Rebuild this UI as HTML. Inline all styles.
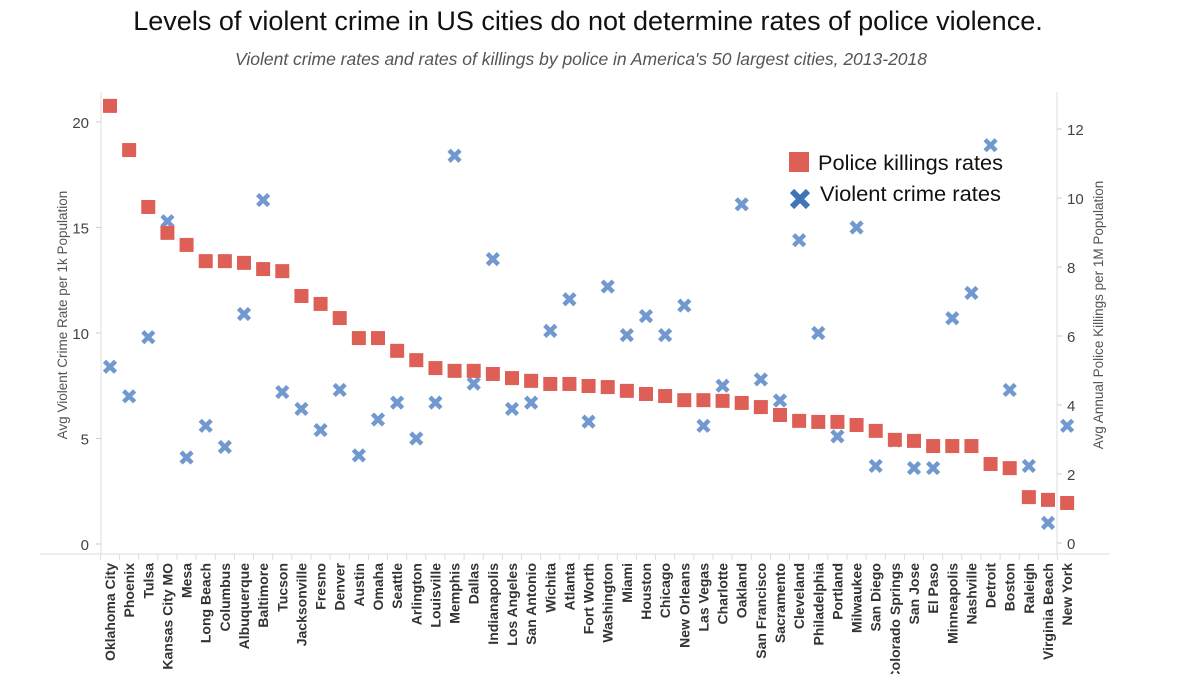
<!DOCTYPE html>
<html><head><meta charset="utf-8">
<style>
html,body{margin:0;padding:0;background:#fff;width:1200px;height:674px;overflow:hidden;font-family:"Liberation Sans",sans-serif;}
</style></head>
<body>
<svg id="chart" width="1200" height="674" xmlns="http://www.w3.org/2000/svg" style="display:block">
<text x="588" y="30" text-anchor="middle" font-size="27" fill="#111" font-family="Liberation Sans, sans-serif">Levels of violent crime in US cities do not determine rates of police violence.</text>
<text x="581" y="65" text-anchor="middle" font-size="17.5" font-style="italic" fill="#555" font-family="Liberation Sans, sans-serif">Violent crime rates and rates of killings by police in America's 50 largest cities, 2013-2018</text>
<g id="axes"></g>
<g id="marks"></g>
<g>
<rect x="789" y="152" width="20" height="20" fill="#dd5f55"/>
<text x="818" y="170" font-size="21" fill="#111" textLength="185" lengthAdjust="spacingAndGlyphs">Police killings rates</text>
<g transform="translate(800,199)"><path d="M-8,-8L8,8M8,-8L-8,8" stroke="#3f74b8" stroke-width="6"/></g>
<text x="820" y="201" font-size="21" fill="#111" textLength="181" lengthAdjust="spacingAndGlyphs">Violent crime rates</text>
</g>
</svg>
<script>
const cities=["Oklahoma City","Phoenix","Tulsa","Kansas City MO","Mesa","Long Beach","Columbus","Albuquerque","Baltimore","Tucson","Jacksonville","Fresno","Denver","Austin","Omaha","Seattle","Arlington","Louisville","Memphis","Dallas","Indianapolis","Los Angeles","San Antonio","Wichita","Atlanta","Fort Worth","Washington","Miami","Houston","Chicago","New Orleans","Las Vegas","Charlotte","Oakland","San Francisco","Sacramento","Cleveland","Philadelphia","Portland","Milwaukee","San Diego","Colorado Springs","San Jose","El Paso","Minneapolis","Nashville","Detroit","Boston","Raleigh","Virginia Beach","New York"];
const policeKillings=[12.67,11.39,9.74,8.99,8.64,8.17,8.17,8.12,7.94,7.88,7.16,6.93,6.52,5.94,5.94,5.57,5.30,5.07,4.99,4.99,4.90,4.78,4.70,4.61,4.61,4.55,4.52,4.41,4.32,4.26,4.14,4.14,4.12,4.06,3.94,3.71,3.54,3.51,3.51,3.42,3.25,2.99,2.96,2.81,2.81,2.81,2.29,2.17,1.33,1.25,1.16];
const violentCrime=[8.4,7.0,9.8,15.3,4.1,5.6,4.6,10.9,16.3,7.2,6.4,5.4,7.3,4.2,5.9,6.7,5.0,6.7,18.4,7.6,13.5,6.4,6.7,10.1,11.6,5.8,12.2,9.9,10.8,9.9,11.3,5.6,7.5,16.1,7.8,6.8,14.4,10.0,5.1,15.0,3.7,4.9,3.6,3.6,10.7,11.9,18.9,7.3,3.7,1.0,5.6];
const leftTicks=[0,5,10,15,20];
const rightTicks=[0,2,4,6,8,10,12];

const NS="http://www.w3.org/2000/svg";
const xPos=i=>110+i*(1048-110)/49;
const yLeft=v=>544-v*21.1;
const yRight=v=>543-v*34.5;
function mk(tag,attrs,parent){const e=document.createElementNS(NS,tag);for(const k in attrs)e.setAttribute(k,attrs[k]);parent.appendChild(e);return e;}
const axes=document.getElementById('axes'),marks=document.getElementById('marks');
let e;
e=mk('line',{x1:101,y1:92,x2:101,y2:554,stroke:'#ddd','stroke-width':1},axes);


e=mk('line',{x1:1057,y1:92,x2:1057,y2:554,stroke:'#ddd','stroke-width':1},axes);


e=mk('line',{x1:40,y1:554,x2:1110,y2:554,stroke:'#ddd','stroke-width':1},axes);


leftTicks.forEach(t=>{
 const y=yLeft(t);
 mk('line',{x1:96,y1:y,x2:101,y2:y,stroke:'#ccc'},axes);
 e=mk('text',{x:89,y:y+6,'text-anchor':'end','font-size':15,fill:'#444'},axes);
 e.textContent=t;
 
 
});
rightTicks.forEach(t=>{
 const y=yRight(t);
 mk('line',{x1:1057,y1:y,x2:1062,y2:y,stroke:'#ccc'},axes);
 e=mk('text',{x:1067,y:y+6,'font-size':15,fill:'#444'},axes);
 e.textContent=t;
 
 
});
e=mk('text',{transform:'translate(67,315) rotate(-90)','text-anchor':'middle','font-size':13.5,fill:'#555'},axes);
e.textContent='Avg Violent Crime Rate per 1k Population';


e=mk('text',{transform:'translate(1103,315) rotate(-90)','text-anchor':'middle','font-size':13.5,fill:'#555'},axes);
e.textContent='Avg Annual Police Killings per 1M Population';


cities.forEach((c,i)=>{
 const x=xPos(i);
 mk('line',{x1:x-9.6,y1:554,x2:x-9.6,y2:560,stroke:'#ddd'},axes);
 e=mk('text',{transform:`translate(${x+5},563) rotate(-90)`,'text-anchor':'end','font-size':14,'font-weight':'bold',fill:'#333'},axes);
 e.textContent=c;
 
 
});
violentCrime.forEach((v,i)=>{
 const x=xPos(i),y=yLeft(v);
 e=mk('path',{d:`M${x-5.5},${y-5.5}L${x+5.5},${y+5.5}M${x+5.5},${y-5.5}L${x-5.5},${y+5.5}`,stroke:'#7199cf','stroke-width':4.5},marks);
 
 
});
policeKillings.forEach((v,i)=>{
 const x=xPos(i),y=yRight(v);
 e=mk('rect',{x:x-7,y:y-7,width:14,height:14,fill:'#dd5f55'},marks);
 
 
});
</script>
</body></html>
